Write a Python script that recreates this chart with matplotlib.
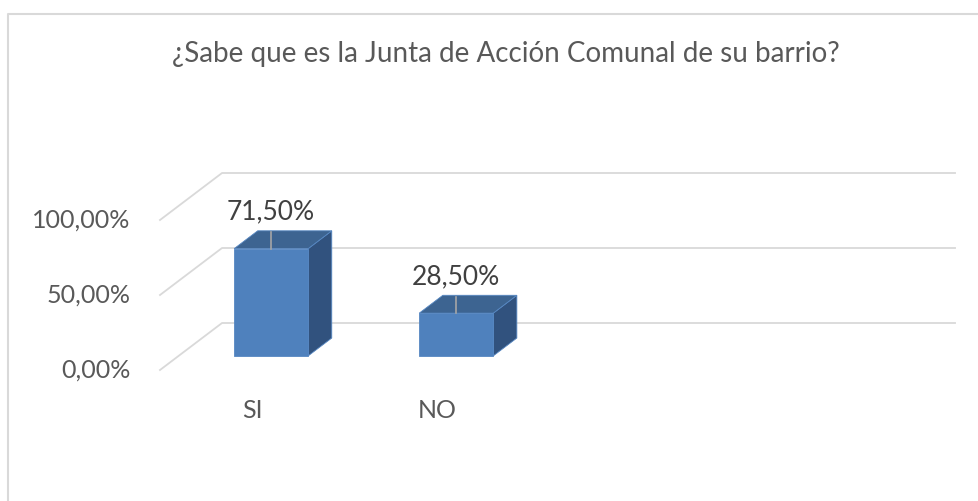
import matplotlib.pyplot as plt
from matplotlib.lines import Line2D
from matplotlib.patches import Polygon

categories = ["SI", "NO"]
values = [0.715, 0.285]
labels = ["71,50%", "28,50%"]
ticks = [0.0, 0.5, 1.0]
tick_labels = ["0,00%", "50,00%", "100,00%"]
title = "¿Sabe que es la Junta de Acción Comunal de su barrio?"

plt.rcParams["font.family"] = ["Lato", "DejaVu Sans"]

W, H = 979, 501
fig = plt.figure(figsize=(W / 100, H / 100), dpi=100)

# front plane of the 3D box: x = category index, y = value
ax = fig.add_axes([160 / W, 131 / H, 733 / W, 150 / H])
ax.set_xlim(-0.5, 3.46)
ax.set_ylim(0, 1)
ax.axis("off")

# oblique depth offset in data units (depth 0 = front, 1 = back wall)
DX = 62 / 185
DY = 47 / 150


def proj(x, v, d):
    return (x + d * DX, v + d * DY)


x0, x1 = ax.get_xlim()
grid_col = "#D9D9D9"
for v, lab in zip(ticks, tick_labels):
    a = proj(x0, v, 0)
    b = proj(x0, v, 1)
    c = proj(x1, v, 1)
    ax.add_line(Line2D([a[0], b[0], c[0]], [a[1], b[1], c[1]],
                       color=grid_col, lw=1.3, clip_on=False, zorder=1))
    ax.text(x0 - 0.16, v, lab, ha="right", va="center", fontsize=18,
            color="#595959", clip_on=False)

front_col = "#4F81BD"
top_col = "#3D6491"
side_col = "#31527E"
edge_col = "#5687C2"
hw = 0.2
d0, d1 = 0.3, 0.68
for i, (cat, h, lab) in enumerate(zip(categories, values, labels)):
    xa, xb = i - hw, i + hw
    front = [proj(xa, 0, d0), proj(xb, 0, d0), proj(xb, h, d0), proj(xa, h, d0)]
    top = [proj(xa, h, d0), proj(xb, h, d0), proj(xb, h, d1), proj(xa, h, d1)]
    side = [proj(xb, 0, d0), proj(xb, h, d0), proj(xb, h, d1), proj(xb, 0, d1)]
    for pts, col in ((side, side_col), (top, top_col), (front, front_col)):
        ax.add_patch(Polygon(pts, closed=True, facecolor=col, edgecolor=edge_col,
                             lw=0.6, clip_on=False, zorder=3))
    # leader line and data label
    p = proj(i, h, d0)
    ax.add_line(Line2D([p[0], p[0]], [p[1], p[1] + 0.11], color="#A6A6A6",
                       lw=1.2, clip_on=False, zorder=4))
    ax.text(p[0], p[1] + 0.245, lab, ha="center", va="center", fontsize=19,
            color="#404040", clip_on=False, zorder=5)
    ax.text(i, -0.267, cat, ha="center", va="center", fontsize=18,
            color="#595959", clip_on=False)

fig.text(506 / W, 1 - 62 / H, title, ha="center", va="baseline", fontsize=20,
         color="#595959")

# chart area border (cut off at right and bottom)
fig.add_artist(Line2D([8.5 / W, 8.5 / W, 1.01], [-0.01, 1 - 14 / H, 1 - 14 / H],
                      transform=fig.transFigure, color="#D9D9D9", lw=1.5))

fig.savefig("out.png", dpi=100)
